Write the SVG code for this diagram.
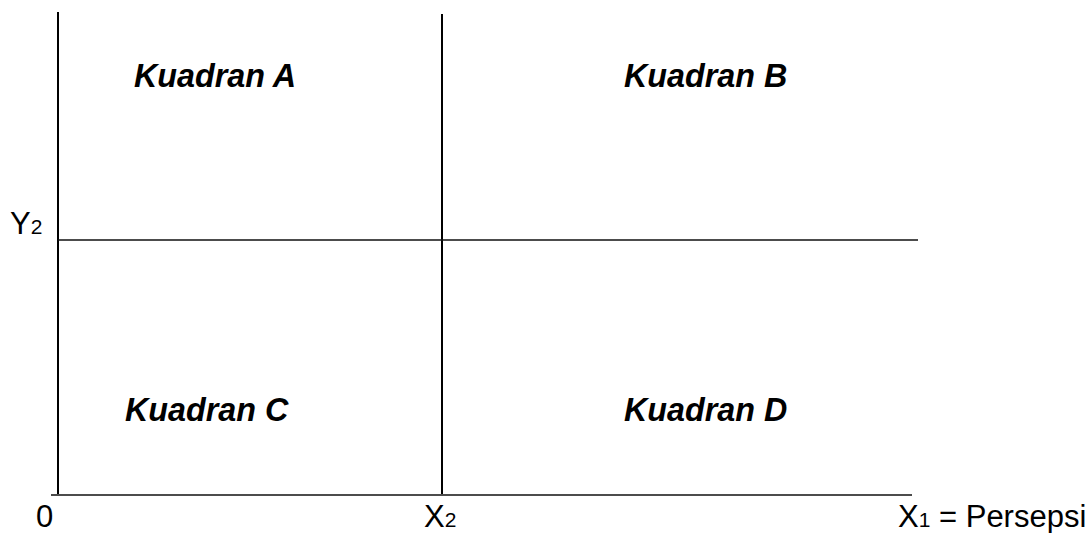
<svg xmlns="http://www.w3.org/2000/svg" width="1092" height="533" viewBox="0 0 1092 533">
<style>
.ax{stroke:#000;stroke-width:2;fill:none}
.hl{stroke:#111;stroke-width:1.6;fill:none}
.q{font-family:"Liberation Sans",Arial,sans-serif;font-size:32.3px;font-weight:bold;font-style:italic;fill:#000}
.lb{font-family:"Liberation Sans",Arial,sans-serif;font-size:31px;fill:#000}
.sb{font-size:21px}
</style>
<rect width="1092" height="533" fill="#fff"/>
<g id="connectors">
<line class="ax" x1="58" y1="12" x2="58" y2="494"/>
<line class="ax" x1="442" y1="14" x2="442" y2="494"/>
<line class="hl" x1="58" y1="240" x2="918" y2="240"/>
<line class="hl" x1="51" y1="495" x2="912" y2="495"/>
</g>
<g id="kuadranA"><text class="q" x="134" y="87">Kuadran A</text></g>
<g id="kuadranB"><text class="q" x="624" y="87">Kuadran B</text></g>
<g id="kuadranC"><text class="q" x="125" y="421">Kuadran C</text></g>
<g id="kuadranD"><text class="q" x="624" y="421">Kuadran D</text></g>
<g id="labelY2"><text class="lb" x="10" y="234">Y<tspan class="sb">2</tspan></text></g>
<g id="label0"><text class="lb" x="36" y="527">0</text></g>
<g id="labelX2"><text class="lb" x="424" y="527">X<tspan class="sb">2</tspan></text></g>
<g id="labelX1"><text class="lb" x="898" y="527">X<tspan class="sb">1</tspan> = Persepsi</text></g>
</svg>
